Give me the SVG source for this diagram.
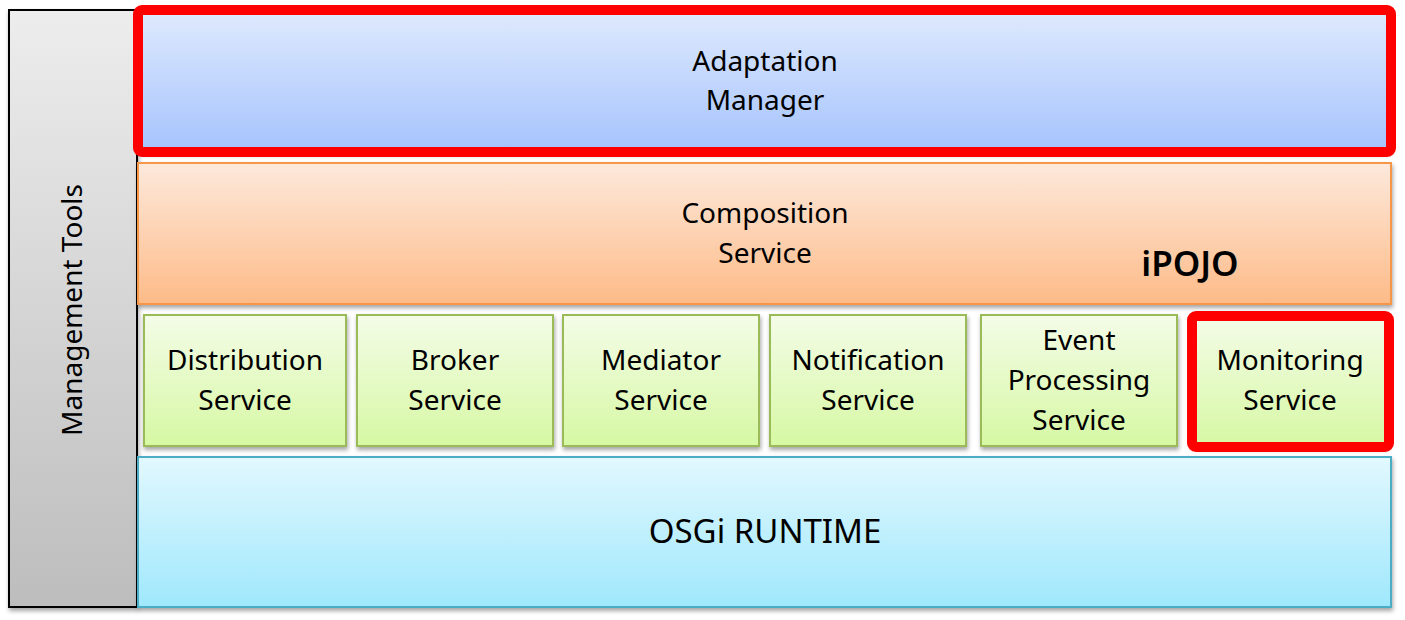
<svg xmlns="http://www.w3.org/2000/svg" width="1405" height="620" viewBox="0 0 1405 620">
<defs>
<linearGradient id="gGray" x1="0" y1="0" x2="0" y2="1"><stop offset="0" stop-color="#ededed"/><stop offset="1" stop-color="#bdbdbd"/></linearGradient>
<linearGradient id="gBlue" x1="0" y1="0" x2="0" y2="1"><stop offset="0" stop-color="#dfeafd"/><stop offset="1" stop-color="#a5c3fd"/></linearGradient>
<linearGradient id="gOrange" x1="0" y1="0" x2="0" y2="1"><stop offset="0" stop-color="#fde9dc"/><stop offset="1" stop-color="#fdbb88"/></linearGradient>
<linearGradient id="gGreen" x1="0" y1="0" x2="0" y2="1"><stop offset="0" stop-color="#f4fce8"/><stop offset="1" stop-color="#d6f8a3"/></linearGradient>
<linearGradient id="gCyan" x1="0" y1="0" x2="0" y2="1"><stop offset="0" stop-color="#e2f8fe"/><stop offset="1" stop-color="#9fe8fc"/></linearGradient>
<filter id="sh" x="-5%" y="-5%" width="110%" height="115%"><feDropShadow dx="1" dy="3" stdDeviation="2" flood-color="#000" flood-opacity="0.35"/></filter>
</defs>
<style>
text{font-family:"Noto Sans","DejaVu Sans",sans-serif;font-size:28px;fill:#000;text-anchor:middle}
.green{fill:url(#gGreen);stroke:#9bbb59;stroke-width:2;filter:url(#sh)}
.hl{fill:none;stroke:#ff0000;stroke-width:10}
</style>
<g id="management-tools">
<rect x="9" y="10" width="128" height="597" fill="url(#gGray)" stroke="#000" stroke-width="2" filter="url(#sh)"/>
<text transform="translate(82,310) rotate(-90)">Management Tools</text>
</g>
<g id="osgi-runtime">
<rect x="138" y="457" width="1253" height="150" fill="url(#gCyan)" stroke="#4bacc6" stroke-width="2" filter="url(#sh)"/>
<text x="765" y="543" style="font-size:33px">OSGi RUNTIME</text>
</g>
<g id="composition-service">
<rect x="138" y="163" width="1253" height="141" fill="url(#gOrange)" stroke="#f79646" stroke-width="2" filter="url(#sh)"/>
<text x="765" y="223">Composition</text>
<text x="765" y="263">Service</text>
<text x="1190" y="276" style="font-size:35px;font-weight:600">iPOJO</text>
</g>
<g id="adaptation-manager">
<rect x="138" y="10" width="1253" height="142" rx="4" fill="url(#gBlue)" filter="url(#sh)"/>
<rect class="hl" x="138" y="10" width="1253" height="142" rx="4"/>
<text x="765" y="71">Adaptation</text>
<text x="765" y="110">Manager</text>
</g>
<g id="distribution-service">
<rect class="green" x="144" y="315" width="202" height="131"/>
<text x="245" y="370">Distribution</text><text x="245" y="410">Service</text>
</g>
<g id="broker-service">
<rect class="green" x="357" y="315" width="196" height="131"/>
<text x="455" y="370">Broker</text><text x="455" y="410">Service</text>
</g>
<g id="mediator-service">
<rect class="green" x="563" y="315" width="196" height="131"/>
<text x="661" y="370">Mediator</text><text x="661" y="410">Service</text>
</g>
<g id="notification-service">
<rect class="green" x="770" y="315" width="196" height="131"/>
<text x="868" y="370">Notification</text><text x="868" y="410">Service</text>
</g>
<g id="event-processing-service">
<rect class="green" x="981" y="315" width="196" height="131"/>
<text x="1079" y="350">Event</text><text x="1079" y="390">Processing</text><text x="1079" y="430">Service</text>
</g>
<g id="monitoring-service">
<rect x="1192" y="316" width="197" height="131" rx="4" fill="url(#gGreen)" filter="url(#sh)"/>
<rect class="hl" x="1192" y="316" width="197" height="131" rx="4"/>
<text x="1290" y="370">Monitoring</text><text x="1290" y="410">Service</text>
</g>
<g id="connectors"/>
</svg>
